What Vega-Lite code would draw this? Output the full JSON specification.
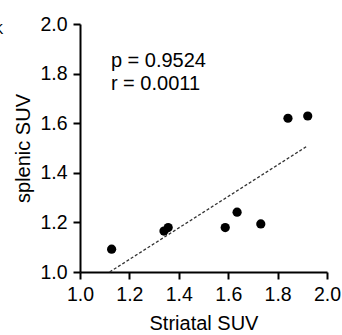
{
  "$schema": "https://vega.github.io/schema/vega-lite/v6.json",
  "autosize": {"type": "none"},
  "padding": {"left": 80, "top": 24, "right": 15, "bottom": 63},
  "width": 247,
  "height": 248,
  "background": "white",
  "title": {"text": "K", "anchor": "start", "frame": "group", "dx": -86, "offset": -23, "fontSize": 14, "fontWeight": "normal", "font": "Liberation Sans", "color": "black"},
  "config": {
    "view": {"stroke": null},
    "font": "Liberation Sans",
    "axis": {"grid": false, "labelFlush": false, "domainColor": "black", "domainWidth": 2, "tickColor": "black", "tickWidth": 2, "tickSize": 7, "labelFontSize": 19.5, "labelColor": "black", "titleFontSize": 20, "titleFontWeight": "normal", "titleColor": "black", "labelFont": "Liberation Sans", "titleFont": "Liberation Sans"}
  },
  "datasets": {
    "points": [
      {"striatal": 1.128, "splenic": 1.092},
      {"striatal": 1.340, "splenic": 1.165},
      {"striatal": 1.357, "splenic": 1.179},
      {"striatal": 1.588, "splenic": 1.179},
      {"striatal": 1.636, "splenic": 1.241},
      {"striatal": 1.732, "splenic": 1.194},
      {"striatal": 1.842, "splenic": 1.620},
      {"striatal": 1.922, "splenic": 1.629}
    ],
    "fit": [
      {"striatal": 1.12, "splenic": 1.0},
      {"striatal": 1.922, "splenic": 1.509}
    ],
    "labels": [
      {"striatal": 1.125, "splenic": 1.828, "label": "p = 0.9524"},
      {"striatal": 1.125, "splenic": 1.734, "label": "r = 0.0011"}
    ]
  },
  "layer": [
    {
      "data": {"name": "fit"},
      "mark": {"type": "line", "color": "#333333", "strokeWidth": 1.3, "strokeDash": [3, 2]},
      "encoding": {
        "x": {"field": "striatal", "type": "quantitative", "scale": {"domain": [1, 2], "nice": false, "zero": false},
              "axis": {"title": "Striatal SUV", "values": [1.0, 1.2, 1.4, 1.6, 1.8, 2.0], "format": ".1f", "labelPadding": 6, "titlePadding": 10}},
        "y": {"field": "splenic", "type": "quantitative", "scale": {"domain": [1, 2], "nice": false, "zero": false},
              "axis": {"title": "splenic SUV", "values": [1.0, 1.2, 1.4, 1.6, 1.8, 2.0], "format": ".1f", "labelPadding": 6, "titlePadding": 6}}
      }
    },
    {
      "data": {"name": "points"},
      "mark": {"type": "circle", "color": "black", "opacity": 1, "size": 85},
      "encoding": {
        "x": {"field": "striatal", "type": "quantitative"},
        "y": {"field": "splenic", "type": "quantitative"}
      }
    },
    {
      "data": {"name": "labels"},
      "mark": {"type": "text", "align": "left", "baseline": "alphabetic", "fontSize": 20, "color": "black", "font": "Liberation Sans"},
      "encoding": {
        "x": {"field": "striatal", "type": "quantitative"},
        "y": {"field": "splenic", "type": "quantitative"},
        "text": {"field": "label"}
      }
    }
  ]
}
